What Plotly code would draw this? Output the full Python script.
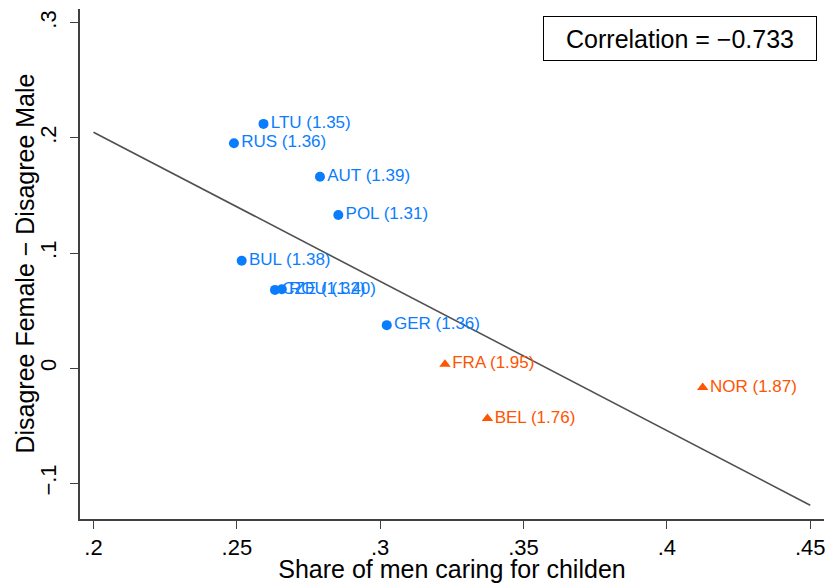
import plotly.graph_objects as go

# Data
countries_a = ["LTU", "RUS", "AUT", "POL", "BUL", "CZE", "ROU", "GER"]
share_a = [0.2593, 0.2490, 0.2790, 0.2854, 0.2517, 0.2633, 0.2657, 0.3023]
diff_a = [0.2122, 0.1954, 0.1663, 0.1330, 0.0933, 0.0680, 0.0685, 0.0374]
tfr_a = ["1.35", "1.36", "1.39", "1.31", "1.38", "1.32", "1.40", "1.36"]

countries_b = ["FRA", "BEL", "NOR"]
share_b = [0.3226, 0.3374, 0.4125]
diff_b = [0.0035, -0.0437, -0.0168]
tfr_b = ["1.95", "1.76", "1.87"]

fit_x = [0.20, 0.45]
fit_y = [0.205, -0.119]

correlation = -0.733

x_ticks = [0.2, 0.25, 0.3, 0.35, 0.4, 0.45]
x_tick_labels = [".2", ".25", ".3", ".35", ".4", ".45"]
y_ticks = [-0.1, 0, 0.1, 0.2, 0.3]
y_tick_labels = ["\u2212.1", "0", ".1", ".2", ".3"]

BLUE = "#0a7dff"
ORANGE = "#ff5400"
FONT = "Liberation Sans, Arial, sans-serif"

fig = go.Figure()

fig.add_trace(go.Scatter(
    x=fit_x, y=fit_y, mode="lines",
    line=dict(color="#505050", width=1.6),
    hoverinfo="skip", showlegend=False,
))

fig.add_trace(go.Scatter(
    x=share_a, y=diff_a, mode="markers+text",
    marker=dict(symbol="circle", size=10, color=BLUE),
    text=[f"{c} ({t})" for c, t in zip(countries_a, tfr_a)],
    textposition="middle right",
    textfont=dict(family=FONT, size=17, color=BLUE),
    showlegend=False,
))

fig.add_trace(go.Scatter(
    x=share_b, y=diff_b, mode="markers+text",
    marker=dict(symbol="triangle-up", size=10, color=ORANGE),
    text=[f"{c} ({t})" for c, t in zip(countries_b, tfr_b)],
    textposition="middle right",
    textfont=dict(family=FONT, size=17, color=ORANGE),
    showlegend=False,
))

fig.add_annotation(
    xref="paper", yref="paper", x=0.9906, y=0.986,
    xanchor="right", yanchor="top",
    text=f"Correlation = \u2212{abs(correlation):.3f}",
    showarrow=False, width=262, height=33, align="center", valign="middle",
    font=dict(family=FONT, size=25, color="black"),
    bordercolor="black", borderwidth=1, borderpad=5,
    bgcolor="white",
)

# y-axis title as rotated annotation
fig.add_annotation(
    xref="paper", yref="paper", x=-0.0745, y=0.5,
    xanchor="center", yanchor="middle", textangle=-90,
    text="Disagree Female \u2212 Disagree Male",
    showarrow=False,
    font=dict(family=FONT, size=25, color="black"),
)

axis_common = dict(
    showgrid=False, zeroline=False, automargin=False,
    showline=True, linecolor="#404040", linewidth=1.6,
    ticks="outside", ticklen=8, tickwidth=1.4, tickcolor="#404040",
    tickfont=dict(family=FONT, size=22, color="black"),
    title_font=dict(family=FONT, size=25, color="black"),
)

fig.update_layout(
    width=830, height=583,
    margin=dict(l=80, r=6, t=9, b=64),
    paper_bgcolor="white", plot_bgcolor="white",
    xaxis=dict(
        range=[0.1953, 0.4548],
        tickvals=x_ticks, ticktext=x_tick_labels,
        title=dict(text="Share of men caring for childen", standoff=0),
        **axis_common,
    ),
    yaxis=dict(
        range=[-0.131, 0.312],
        tickvals=y_ticks, ticktext=y_tick_labels,
        tickangle=-90, ticklabelstandoff=5,
        **axis_common,
    ),
)

fig.write_html("out.html", config={"displayModeBar": False},
               post_script="document.body.style.margin='0';")
